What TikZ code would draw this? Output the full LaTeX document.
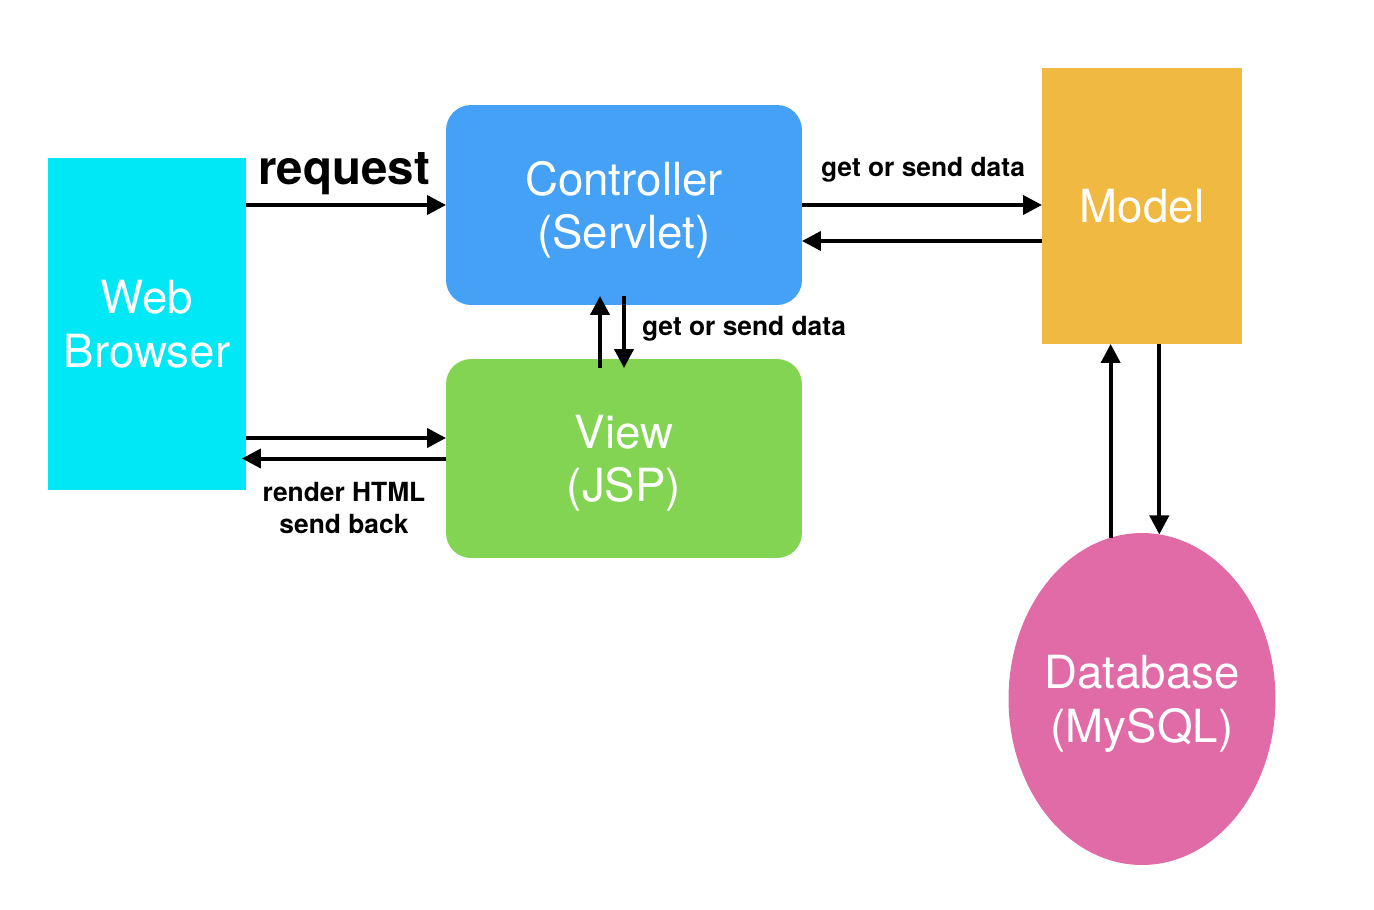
\documentclass[tikz,border=0pt]{standalone}
\usepackage{fontspec}
\setmainfont{TeX Gyre Heros}
\usetikzlibrary{arrows.meta,shapes.geometric}

\definecolor{browsercyan}{RGB}{0,232,246}
\definecolor{ctrlblue}{RGB}{69,161,245}
\definecolor{viewgreen}{RGB}{132,212,84}
\definecolor{modelyellow}{RGB}{240,186,66}
\definecolor{dbpink}{RGB}{224,107,166}

\begin{document}
\begin{tikzpicture}[x=0.02cm,y=-0.02cm,
  block/.style={inner sep=0pt,outer sep=0pt,text=white,align=center,text depth=0pt,
    font=\fontsize{26}{30.5}\selectfont},
  arr/.style={line width=0.08cm,-{Triangle[length=0.38cm,width=0.38cm]}},
  lbl/.style={font=\bfseries\fontsize{15}{18.5}\selectfont,align=center,inner sep=0pt}]
\useasboundingbox (0,0) rectangle (1374,910);
% boxes
\node[block,fill=browsercyan,minimum width=3.96cm,minimum height=6.64cm] (browser) at (147,324) {Web\\Browser};
\node[block,fill=ctrlblue,rounded corners=0.5cm,minimum width=7.12cm,minimum height=4cm] (controller) at (624,205) {Controller\\(Servlet)};
\node[block,fill=viewgreen,rounded corners=0.5cm,minimum width=7.12cm,minimum height=3.98cm] (view) at (624,458.5) {View\\(JSP)};
\node[block,fill=modelyellow,minimum width=4cm,minimum height=5.52cm] (model) at (1142,206) {Model};
\node[block,ellipse,fill=dbpink,minimum width=5.34cm,minimum height=6.64cm,
  label={[block]center:Database\\(MySQL)}] (db) at (1142,699) {};
% browser <-> controller / view
\draw[arr] (browser.east |- controller.west) -- (controller.west);
\node[lbl,font=\bfseries\fontsize{27}{30}\selectfont] (request) at (344,174) {request};
\draw[arr] ([yshift=0.41cm]browser.east |- view.west) -- ([yshift=0.41cm]view.west);
\draw[arr] (view.west) -- ([xshift=-0.08cm]browser.east |- view.west);
\node[lbl] (render) at (344,508) {render HTML\\send back};
% controller <-> model
\draw[arr] (controller.east) -- (model.west |- controller.east);
\draw[arr] ([yshift=-0.72cm]model.west |- controller.east) -- ([yshift=-0.72cm]controller.east);
\node[lbl] (ctrlmodel) at (923,170) {get or send data};
% controller <-> view
\draw[arr] ([xshift=-0.48cm,yshift=-0.18cm]view.north) -- ([xshift=-0.48cm,yshift=0.18cm]controller.south);
\draw[arr] ([yshift=0.18cm]controller.south) -- ([yshift=-0.18cm]view.north);
\node[lbl] (ctrlview) at (744,329) {get or send data};
% model <-> database
\draw[arr] (db.101) -- (db.101 |- model.south);
\draw[arr] (db.84 |- model.south) -- (db.84);
\end{tikzpicture}
\end{document}
